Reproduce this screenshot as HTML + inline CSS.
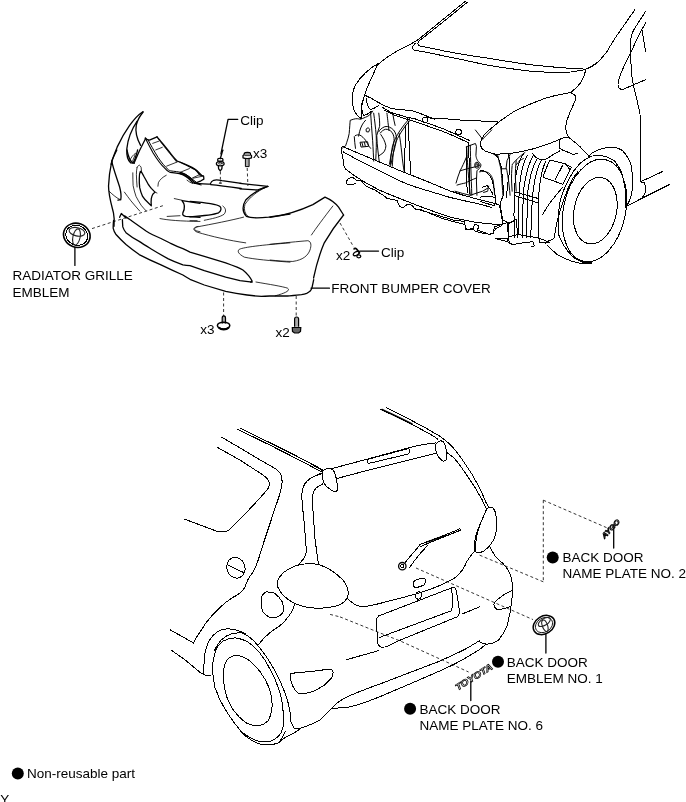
<!DOCTYPE html>
<html><head><meta charset="utf-8">
<style>
html,body{margin:0;padding:0;background:#fff;}
body{width:686px;height:802px;overflow:hidden;position:relative;}
svg{position:absolute;left:0;top:0;filter:grayscale(1);}
text{font-family:"Liberation Sans",sans-serif;font-size:13.5px;fill:#000;}
path,ellipse,circle,rect,polyline,line{vector-effect:non-scaling-stroke;}
.k{fill:none;stroke:#000;stroke-width:1.3;stroke-linecap:round;stroke-linejoin:round;}
.t{fill:none;stroke:#000;stroke-width:1;shape-rendering:crispEdges;stroke-linecap:round;stroke-linejoin:round;}
.u{fill:none;stroke:#000;stroke-width:0.8;stroke-linecap:round;stroke-linejoin:round;}
.d{fill:none;stroke:#000;stroke-width:0.8;stroke-dasharray:3 2.5;}
</style></head>
<body>
<svg width="686" height="802" viewBox="0 0 686 802">
<!-- BUMPER -->
<g id="g1" transform="translate(100,100) scale(0.142857)">
<path class="k" d="M300,82 C240,120 170,220 120,330 C95,390 80,440 78,450"/>
<path class="k" d="M302,84 C285,105 262,140 254,175 C247,215 255,265 284,318"/>
<path class="k" d="M260,148 C225,200 195,270 188,340 C185,390 195,425 215,440 L240,442"/>
<path class="k" d="M238,442 C255,400 282,340 320,268"/>
<path class="u" d="M208,425 C218,400 232,384 250,372"/>
</g>
<g id="gs" transform="translate(140,125) scale(0.087466)">
<path class="k" d="M60,150 C80,190 110,250 150,320 C190,385 230,445 280,490 C300,515 320,535 345,542 C400,548 460,552 500,568 C550,590 590,630 640,668 L700,685" style="stroke-width:1.1"/>
<path class="k" d="M92,170 C115,213 155,288 205,368 C245,428 285,476 325,512 C340,523 355,526 385,529 C425,532 475,540 525,565 C565,590 605,625 645,655" style="stroke-width:1"/>
<path class="k" d="M60,150 L85,168 L108,172 L195,135"/>
<path class="k" d="M195,135 C230,175 280,240 330,300 C370,350 400,390 425,412 C470,425 530,450 600,488 C640,510 665,530 700,570"/>
<path class="u" d="M205,155 C240,200 300,275 420,425"/>
<path class="u" d="M145,210 L215,185 M180,285 L255,255 M305,470 L420,425 M462,540 L565,498 M600,605 L680,568"/>
<path class="u" d="M300,575 C260,595 225,625 210,660 L205,700"/>
</g>
<g id="ge" transform="translate(180,150) scale(0.087466)">
<path class="k" d="M0,140 C60,165 120,200 175,225 C195,240 210,262 225,285 L270,300 L273,333 L240,352 L168,382"/>
<path class="u" d="M152,322 L266,298"/>
<path class="k" d="M0,255 C50,270 100,300 140,340 C150,355 160,370 168,382"/>
<path class="k" d="M0,270 C60,290 110,330 150,380"/>
<path class="u" d="M80,345 C100,360 120,375 140,380"/>
<path class="k" d="M168,382 C230,385 300,390 345,390 C352,372 362,355 385,346 C410,340 440,342 480,350 L700,382"/>
<path class="k" d="M350,396 C450,405 560,420 700,440"/>
<path class="k" d="M490,0 L460,100"/>
<path class="k" d="M432,102 C432,95 490,95 490,102 L490,128 L432,128 Z"/>
<ellipse class="k" cx="460" cy="158" rx="44" ry="24"/>
<ellipse class="u" cx="460" cy="152" rx="22" ry="9"/>
<path class="k" d="M438,180 L442,215 L460,238 L478,215 L482,180"/>
<path class="u" d="M452,378 L462,362 L472,378 Z"/>
</g>
<g id="g2b" transform="translate(100,150) scale(0.112221)">
<path class="k" d="M150,0 C130,40 110,80 105,100 C90,170 78,260 76,320 C76,400 100,480 120,560 C130,610 128,650 125,680"/>
<path class="k" d="M105,100 C115,160 150,250 175,330 C188,380 190,420 185,442 L160,446"/>
<path class="u" d="M185,445 C150,430 115,400 82,368"/>
<path class="k" d="M175,600 L190,566 L232,606"/>

<path class="k" d="M240,0 C250,50 270,100 292,115 C310,100 322,50 335,0"/>
<path class="u" d="M290,100 L312,45"/>
</g>
<g id="vent2">
<path class="k" d="M140.4,171.3 C139.5,173.5 139.2,176 139.3,178.2 C139.2,181.5 139.3,184.6 139.7,187.7 C140.3,190.7 141.3,193.6 142.6,196.4 C144,198.6 145.8,200.6 147.7,202.3 L151.3,205.9 C151,203.3 151,200.9 151.3,198.6 C151.6,197 152.1,195.6 152.8,194.3 L155,192.1 C153.8,190.9 152.5,189.7 151.3,188.4 C150,186.8 148.8,185.1 147.7,183.3 L144.1,176.8 C143.2,175 142.2,173.1 141.1,171.3 Z"/>
<path class="u" d="M137.1,167.3 C137.7,166.2 138.4,165.5 139.3,165.1 C140,165.7 140.7,166.4 141.1,167.3 L141.5,170.9"/>
<path class="u" d="M137.1,167.3 C136.6,169.7 136.3,172.1 136.4,174.6 C136.5,178.7 136.7,182.9 137.1,187"/>
<path class="u" d="M132.8,172.8 C132.8,177 132.9,181.3 133.1,185.5 C133.8,189.2 134.8,192.9 136,196.4 C137.6,199.4 139.3,202.4 141.1,205.2 C142.8,207.2 144.4,209.2 146.2,211"/>
<path class="u" d="M124.4,192.1 C126.5,195 128.7,197.9 130.9,200.8 C133.8,204.3 136.7,207.7 139.7,211"/>
<path class="u" d="M155,192.1 L157,193"/>
</g>
<g id="g2" transform="translate(100,170) scale(0.142857)">

<path class="k" d="M575,215 C600,245 595,270 580,300 C575,315 585,322 600,325 L700,332"/>
<path class="k" d="M575,215 L700,234"/>
<path class="u" d="M520,200 L575,212"/>
<path class="u" d="M470,325 L560,320 M420,340 C480,352 560,358 700,360"/>
<path class="u" d="M686,395 C665,400 655,412 670,425 L700,432"/>
</g>
<g id="lip">
<path class="k" d="M124.6,215.9 C127,217.5 129.5,219.3 131.9,221 L146.4,231.2 C151,234 156,236.3 161,238.5 C164.5,240.3 168,242 171.2,243.6 C175,245.5 179,247.2 182.9,248.7 C185.5,249.9 187.8,251 190,252.1 L204.3,256.4 L225.7,262.9 C229.5,264.3 233.3,265.7 237.1,267.1 C239.3,268 241.2,268.9 242.9,270 C245,271.7 246.9,273.6 248.6,275.7 C250,277.5 251.2,279.3 252.1,281.1 L250.7,282.1"/>
<path class="k" d="M122.4,219.6 C122.5,222 122.6,224.5 122.8,226.9 C123.5,229 124.6,231 126,232.7 C130,236 134.5,238.8 139.2,241.4 C143,244 147,246.4 150.8,248.7 C156.5,252.2 162.4,255.6 168.3,258.9 C173,261.2 178,263.1 182.9,264.8 C185.5,265.1 187.8,265.4 190,265.7 L204.3,270.7 L225.7,277.1 L240,280.7 L252.1,282.1"/>
<path class="k" d="M113.6,220.3 C113.3,223 113.1,225.6 113.2,228.3 C113.7,230.4 114.6,232.4 115.8,234.2 C119,237.8 122.4,241.2 126,244.4 C130.3,247.9 134.7,251.3 139.2,254.6 C146.3,258.3 153.6,261.7 161,264.8 C168.3,268.3 175.6,271.7 182.9,275 C185.3,276.5 187.6,277.9 190,279.3 L204.3,285 L225.7,291.4 C232.8,292.8 240,294 247.1,295 C251.9,295.6 256.6,296.1 261.4,296.4 C264.3,296.4 267.1,296.2 270,296 L287.5,296 C292,295.6 297,295.2 301.5,294.6 C303.3,294.3 305.1,293.9 306.7,293.4 C308,292.8 309.2,292 310.2,291.1 C311,290 311.6,288.8 312,287.6 C312.6,285 313.2,282.3 313.7,279.7"/>
</g>
<g id="g3" transform="translate(190,140) scale(0.142857)">
<path class="k" d="M350,303 L545,325"/>
<path class="k" d="M350,342 L470,350 L545,325"/>
<path class="k" d="M545,325 C480,345 430,380 390,420 C365,460 365,500 395,535 C420,545 480,547 550,540 L700,518"/>
<path class="u" d="M530,332 C470,358 420,400 385,450 C375,490 385,520 410,537"/>
<path class="k" d="M0,430 C100,438 190,450 210,465 C222,478 218,495 200,510 C160,525 80,532 0,538"/>
<path class="u" d="M230,462 C252,478 255,500 238,520 C210,540 150,552 100,562"/>
</g>
<g id="g4" transform="translate(190,200) scale(0.142857)">
<path class="u" d="M0,145 L50,145"/>
<path class="u" d="M375,120 C300,140 150,170 40,190 C20,198 22,212 50,225 C150,255 280,285 390,300"/>
<path class="u" d="M700,300 C500,315 380,330 345,345 C328,360 340,378 380,400 C450,415 560,425 700,435"/>
</g>
<g id="g5" transform="translate(270,180) scale(0.142857)">
<path class="k" d="M0,262 C100,248 200,218 300,172 L385,120 C420,135 460,165 480,190 L515,245"/>
<path class="k" d="M515,245 C470,300 420,370 380,440 C350,510 325,590 305,686"/>
<path class="u" d="M290,385 C320,340 380,260 440,182"/>
<path class="u" d="M0,450 C100,440 200,430 265,425 C290,430 290,460 280,490 C265,530 230,560 160,570 C100,570 50,565 0,560"/>
</g>
<g id="gc" transform="translate(200,250) scale(0.17492)">
<path class="k" d="M635,218 L740,218"/>
<path class="u" d="M320,183 C400,197 470,208 500,218 C515,228 505,242 430,262"/>
</g>
<g id="dash">
<path class="d" d="M247.2,168 L247.9,186 M220.4,171.4 L220.4,179.5 M340,223 L353.8,247.2 M223.6,292.5 L223.6,317 M296.2,296 L296.2,317.5"/>
</g>
<g id="fast">
<path class="k" d="M244.5,153 C245,152.2 249.8,152.2 250.3,153 L250.6,155 L251.5,155.5 L251.5,157.8 C249.5,158.8 245,158.8 243,157.8 L243,155.5 L243.9,155 Z"/>
<path class="u" d="M244.8,155.6 L249.8,155.6 M245.2,154 L249.4,154"/>
<rect x="245.4" y="158.6" width="3.7" height="8" style="fill:#aaa;stroke:#000;stroke-width:1"/>
<path d="M222.2,323.5 L222.2,318 C222.2,316.5 223,315.8 223.8,315.8 C224.6,315.8 225.5,316.5 225.5,318 L225.5,323.5" style="fill:#aaa;stroke:#000;stroke-width:1.2"/>
<ellipse class="k" cx="223.6" cy="325.6" rx="6.2" ry="3.3" style="stroke-width:1.5"/>
<path class="k" d="M219,327.8 C221,329.9 226.5,329.9 228.5,327.8" style="stroke-width:2"/>
<path d="M294.6,326.7 L294.6,319 C294.6,317.5 295.5,317 296.6,317 C297.7,317 298.6,317.5 298.6,319 L298.6,326.7" style="fill:#aaa;stroke:#000;stroke-width:1.2"/>
<path d="M292.3,327.5 L300.8,327.5 L300.5,331.5 L298.5,333 L294.5,333 L292.5,331.5 Z" style="fill:#666;stroke:#000;stroke-width:1.2"/>
<path class="k" d="M354,249 C354.8,248 356,248.2 357,249.5 L359.5,252.8" style="stroke-width:1.6"/>
<ellipse class="k" cx="356.3" cy="253.5" rx="3.3" ry="1.8" transform="rotate(-30 356.3 253.5)"/>
<ellipse class="k" cx="358.8" cy="256.3" rx="2" ry="1.5"/>
</g>
<g id="g7">
<ellipse class="k" cx="76.8" cy="235.3" rx="13.5" ry="11.9" transform="rotate(20 76.8 235.3)" style="stroke-width:1.6"/>
<ellipse class="t" cx="76.8" cy="235.3" rx="11.2" ry="9.8" transform="rotate(20 76.8 235.3)"/>
<ellipse cx="77" cy="231.8" rx="8" ry="4.2" transform="rotate(12 77 231.8)" style="fill:none;stroke:#222;stroke-width:1.1"/>
<ellipse cx="76.5" cy="237" rx="3.6" ry="8.3" transform="rotate(12 76.5 237)" style="fill:none;stroke:#222;stroke-width:1.1"/>
<path class="k" d="M74.9,247.4 L74.9,265.4"/>
<path class="d" d="M92,228.6 L162.9,205.7"/>
</g>
<g id="g8" transform="translate(200,105) scale(0.102041)">
<path class="k" d="M370,140 L275,140 L205,480"/>

</g>
<g id="g9" transform="translate(330,225) scale(0.087466)">
<path class="k" d="M340,298 L555,298"/>
</g>
<!-- FRONT CAR -->
<g id="car1">
<path class="t" d="M465.7,1 L444.3,18.4 C436,25 426,33.7 417.8,39.8 C411.6,44 404.5,47.3 397.3,51 C389,55.5 383,60.2 376.9,65.3"/>
<path class="t" d="M467.1,2.4 L446.3,19.4 C438,26 428,34 419.8,40.4"/>
<path class="t" d="M419.8,40.4 C417.5,42.5 417,44.5 419.8,45.9 C430,48 440,50 444.3,51 C460,54 475,56.5 486.6,58 C505,61 520,63.5 533.3,65 C550,67 565,68.3 585.8,69.2"/>
<path class="t" d="M415.3,43.3 C412.5,46 411.5,48.5 414.1,50 C425,52 435,54 444.3,56 C460,59 475,62.5 486.6,65 C505,68 520,70 533.3,71.5 C545,72.3 555,72.4 570.6,72 L585.8,69.6"/>
<path class="t" d="M634.8,9.8 L625,23.8 C620,31 618,34 615.2,37.8 C612,43 609,48 606.8,51.8 C603,56.5 601,59 598.4,61.6 C595,64.5 592,66.5 585.8,69.2"/>
<path class="t" d="M645.7,11.2 L637.6,23.8 C635,28 633.5,30 632.7,32.2 C631,36 630.6,39 630.6,42 L630.6,56 C631,65 631.5,72 632,77 C633,84 634,88 634.8,91 C637,100 639,108 640,114.3 C640.6,125 640.9,132 640.9,137.1 L640,160 L640,180 C641,182 643,183 644.3,182.9 C645.5,186 646,189 645.7,191.4 C645,194 643.5,196.5 641.4,198.6"/>
<path class="t" d="M646,22.4 L641.8,29.4 L636.2,40.6 L630.6,53.2 C627,60 625,64 623.6,67.2 C621,73 619.5,77 618.7,79.8 C617.5,84 618,87 619.4,88.2 C620.5,89.5 621.5,89.8 622.9,89.6 L632,85.4 L646,79.5"/>
<path class="t" d="M642.1,30.1 L645.7,51.8"/>
<path class="t" d="M585.8,69.2 C593,66.5 597,63.5 600,60.3"/>
<path class="t" d="M585.8,69.6 C584.6,76.6 582.5,80 580,83.6 C577,87.5 575,89.5 570.6,92.5"/>
<path class="t" d="M570.6,92.5 C560,94.5 550,96 540.7,100 C530,104 523,107 516.2,110.2 C507,116 501,120 495.8,124.5 C489,130 485.5,133 483.6,135.7 C481.5,139 480.5,141 480.5,142.9 C480.5,146 481.3,148 482.6,149 C484,150.5 486,151.5 487.7,152 C490.5,153 493,153.8 495.8,154.1 C501,154.2 506,153.8 512.1,153.1 C519,152.3 526,150.5 532.6,149 C539,147.5 545,145 550.9,142.9 C555,141.3 560,139.5 563.2,137.8 L568.6,137.1"/>
<path class="t" d="M570.6,92.5 C574,94 575.7,95.5 575.7,97.1 C575.5,100 574.5,103 572.9,105.7 C570.5,110.5 568.5,115.5 567.1,120 C566,124 565.5,126.5 565.7,128.6 C566,131.5 567,134.5 568.6,137.1 C571,139.5 573.5,141.2 575.7,142.9 C579,145.5 582,148.5 584.3,151.4 L590,157.1"/>
<path class="t" d="M588.6,156.2 C590.5,154 592.5,152.5 595.1,151.3 C599,149.3 603.5,147.8 608.1,147.3 C611.5,146.9 615,147.2 617.8,148.1 C621,149.3 624,151.5 625.9,154.6 C628,157.5 629.8,161 630.8,164.3 C631.8,168 632.2,172 632.4,175.7 L632.4,188.6 C632.2,191.5 631.6,194.3 630.8,196.7 C630,199 629.2,201.3 628.3,203.2 L625.9,206.5"/>
<path class="t" d="M592,156 C587,158 583,160.5 579.9,163.5 C575.5,168 572,173 569.4,178.4 C566.3,183.8 563.8,189.3 561.9,194.9 C560.3,199.8 559.3,204.8 558.9,209.8 C558.3,214.8 558.1,219.8 558.2,224.8 C558.3,228.3 558.5,231.8 558.9,235.3 C560.3,239.5 562.4,243.5 564.9,247.2 C567.5,251 570.5,254.5 573.9,257.7 C576.7,259.7 579.7,261.2 582.9,262.2 C585.9,262.8 588.8,263 591.8,262.9"/>
<path class="t" d="M547.7,245.7 C550.8,248.8 554,251.8 557.4,254.7 C562.2,257.4 567.2,259.6 572.4,261.4 C575.8,262.5 579.3,263.2 582.9,263.7 L592,264"/>
<path class="t" d="M593.5,155.4 C597.3,155.5 601,155.7 604.8,156.2 C608.3,157.5 611.6,159.1 614.6,161.1 C617.1,164.1 619.2,167.4 621,170.8 C622.4,175.1 623.5,179.4 624.3,183.8 C625,187.6 625.6,191.3 625.9,195.1 C625.9,199.4 625.6,203.8 625.1,208.1"/>
<path class="t" d="M625.9,206.5 L641.4,198.6 L670,184.3"/>
<path class="t" d="M641.4,181.4 L662.9,171.4"/>
<ellipse class="t" cx="594.5" cy="210.5" rx="31" ry="52" transform="rotate(12 594.5 210.5)"/>
<ellipse class="t" cx="595.3" cy="210.7" rx="21.2" ry="33.7" transform="rotate(12 595.3 210.7)"/>
</g>
<!-- ENGINE -->
<g id="eng">
<path class="t" d="M342.3,146.4 C360,154 380,162 400,170.7 C415,176.5 430,182.5 449.2,190.6 C460,194.5 470,197.3 478.3,199.4 L495.8,203.7"/>
<path class="t" d="M343.5,152 C350,155.5 355,158.5 360,161.1 C373,167.5 387,174.5 400,180.9 C407,184 413,186.5 420,188.4 C430,191.5 440,194.5 449.2,197.2 C460,200 470,202 478.3,203.7 L491.4,207.4"/>
<path class="t" d="M342.3,146.4 C341.5,147.5 341,149 341.2,150 C341.8,153 342.5,156 342.9,158.7 C343.4,161.5 343.8,164 344.1,166.2 L345.8,169.2"/>
<path class="t" d="M345.8,169.2 C350.5,173 355,176.5 360,179.2 C366,183 373,186.8 379.2,190 C383,191.8 386,193 389,194.2 C396,197 403,200 410,202.5 C414,204 417,205.3 420,206.5 C430,210 440,213.8 449.2,216.9 C460,219.5 470,221.3 478.3,222.7 L501.6,224.9"/>
<path class="t" d="M495.8,203.7 L499.4,205.2 C500,208 500.5,210 500.9,212.5 C501.5,216 502,219 502.4,221.2 L503.1,224.1 L501.6,224.9"/>
<path class="t" d="M420,209.3 C428,212.5 435,215.5 441.9,218.3 C450,221 457,222.8 463.7,224.1"/>
<path class="t" d="M346.4,181.4 L348.2,178.5 L352.8,177.3 L356.3,180.2 L361,180.2 L363.3,183.1 L366.8,186.6 L375,190.1 L384.3,196 L386.6,198.3 L392.5,199.5 L397.1,200.6 L399.5,206.5 L403,207.6 L407.6,204.1 L412.3,205.3 L414.6,208.8 L420,210 L440,216 L455,220.5 L463.7,221.2 L466.6,230 L472.5,228.5 L475.4,231.4 L481.2,232.9 L490,234.3 L492.9,232.9 L495.8,228.5 L501.6,225.6"/>
<path class="t" d="M346.4,181.4 L347,184.3 L351.7,184.9 L355.2,183.7"/>
<path class="t" d="M495.8,238.7 L507.5,241.6 L513.3,244.5 L520,243.1 M503.1,224.1 L507,222.8 L508.5,235.8 L507.5,241.6"/>
<path class="t" d="M382.1,107.1 C386,109.5 389,111.5 392.1,112.9 C397,114.5 401,115.2 406.4,117.1 L414.3,118.6 L428.6,123.6 L442.9,128.6 L457.1,135 L470,140.7"/>
<path class="t" d="M384,110 C389,113 394,115.5 400,117.1 L414.3,121.4 L428.6,126.4 L442.9,131.4 L457.1,137.4 L468.6,142.9"/>
<circle class="t" cx="425" cy="120" r="2.8"/><circle class="t" cx="458.6" cy="132.1" r="2.8"/>
<path class="t" d="M407.9,118.6 L410.7,174.3 M405.7,125.7 L404.3,171.4 M468.6,142.9 L470,194.3 M466.4,147 L467.1,193"/>
<path class="t" d="M516.9,234.4 L538.7,238 L549.7,242.4"/>
<path class="t" d="M495.7,238 L508.1,238.7 L509.6,243.1 L512.5,244.6 L521.2,243.1 L532.9,241.6 L534.3,246 L531.4,246.7"/>
<path class="t" d="M508.1,237.3 L508.1,224.2 L516.1,219.1 L517.6,234.4 L508.1,237.3"/>
<path class="t" d="M464.4,220.5 L465.8,230 L473.1,229.3 L474.6,224.2 L479,225.6 L477.5,230 L489.2,234.4 L493.5,233.6 L494.3,227.1 L502.3,224.2"/>
<path class="t" d="M538.7,238 L540,243 L549.7,242.4"/>
</g>
<g id="brk" transform="translate(340,105) scale(0.102041)">
<path class="t" d="M320,60 C305,90 280,110 250,120 C230,128 215,135 200,140 C180,135 160,130 130,140 L100,150 C97,180 95,220 90,280 C85,310 75,340 65,370 L55,400 L30,415 L18,428"/>
<path class="t" d="M250,150 C225,175 205,210 192,260 L182,305"/>
<path class="t" d="M258,235 L275,222 L292,238 L280,265 L262,262 Z"/>
<path class="t" d="M150,300 C165,292 180,290 195,295 C215,305 235,325 250,345 L270,380 L285,405 L300,425"/>
<path class="t" d="M200,365 L270,360 L280,405 L210,412 Z M215,370 L225,405 M240,368 L248,405 M140,310 L145,370 L152,425"/>
<path class="t" d="M300,80 C305,150 312,250 320,350 C325,430 328,500 330,550"/>
<path class="t" d="M330,80 C340,150 348,220 355,300 C358,380 355,450 350,540"/>
<path class="t" d="M380,80 C388,140 390,180 388,210 C380,240 365,270 360,300 C362,350 366,400 372,450 L385,560"/>
<path class="t" d="M380,262 C390,240 410,225 440,212 C470,205 500,220 525,245 C545,270 555,300 552,340 C548,380 535,430 520,480 L500,580"/>
<path class="t" d="M395,275 C408,255 425,245 445,238 C470,235 492,248 510,268 C525,290 532,320 530,350 C525,390 512,440 500,490 L485,580"/>
<path class="t" d="M400,290 C420,320 440,350 450,400 C448,440 430,470 400,485 L378,500"/>
<path class="t" d="M686,125 C650,165 615,210 585,255 C555,300 530,350 515,400 C505,450 498,500 495,560 L492,600"/>
<path class="t" d="M686,150 C655,185 625,225 600,265 C575,305 550,350 535,400 C525,450 518,500 515,560 L512,600"/>
<path class="t" d="M580,280 C590,340 598,400 605,470 C612,540 620,600 630,660"/>
<path class="t" d="M460,80 C465,120 470,170 480,250 M520,100 C525,130 530,165 540,200"/>
</g>
<g id="rbk" transform="translate(455,130) scale(0.102041)">
<path class="t" d="M110,165 L200,132 L210,160 L205,250 C210,280 215,300 250,330 C258,345 255,360 235,380 L215,400 L210,500 L215,640"/>
<path class="t" d="M115,165 C118,250 125,400 150,640"/>
<path class="t" d="M150,150 C152,300 158,450 165,640"/>
<path class="t" d="M110,270 C90,320 70,360 50,400 C35,440 20,480 10,520"/>
<path class="t" d="M50,400 C100,385 150,370 200,360"/>
<path class="t" d="M20,540 C50,530 75,525 100,520 C130,505 160,490 210,470"/>
<path class="t" d="M0,600 C50,615 100,630 150,640 C190,625 230,612 270,600 L320,570"/>
<ellipse class="t" cx="215" cy="345" rx="22" ry="30"/><ellipse class="t" cx="215" cy="345" rx="11" ry="16"/>
<path class="t" d="M330,550 C325,570 322,590 320,600 L280,612"/>
<path class="t" d="M240,410 C270,400 300,405 330,420 C355,440 368,470 375,500 C380,540 383,590 390,640"/>
<path class="t" d="M200,0 L270,90 M360,0 L270,90"/>
<path class="t" d="M380,240 C400,244 415,248 420,250 C425,270 428,290 430,300 L450,380 L500,380 L510,300 L540,240"/>
<path class="t" d="M450,380 C455,430 460,500 470,640 M505,380 C515,430 528,500 540,640"/>
<path class="t" d="M560,350 C555,400 552,450 555,520 L560,600 M600,300 C595,350 590,400 592,480 L600,600"/>
<path class="t" d="M560,340 C590,300 620,270 686,220 M600,340 C620,310 645,290 670,280"/>
</g>
<g id="ez1" transform="translate(480,140) scale(0.142857)">
<path class="t" d="M305,95 C280,130 255,200 245,300 C240,380 238,450 238,520 L240,686"/>
<path class="t" d="M330,110 C305,150 285,220 275,350 C271,420 270,500 268,600 L265,686"/>
<path class="t" d="M370,115 C345,160 320,230 305,350 C301,420 300,500 298,600 L295,686"/>
<path class="t" d="M400,130 C375,170 350,240 335,360 C331,430 330,500 328,600 L325,686"/>
<path class="t" d="M430,140 C405,180 385,250 370,370 C365,430 360,500 358,600 L355,686"/>
<path class="t" d="M460,150 C440,190 420,260 410,400 C406,450 405,500 407,600 L410,686"/>
<path class="t" d="M250,365 L410,410 M245,390 L405,440"/>
<path class="t" d="M200,95 C205,140 210,170 210,200 C205,240 198,270 195,300 L185,400"/>
<path class="t" d="M100,95 C115,110 125,120 130,130 C140,160 148,180 150,200 C155,240 158,270 160,300 L165,380 L150,420 L140,440 C145,480 150,520 160,560 L200,580 L240,570"/>
<path class="t" d="M490,140 L590,165 L640,190 M490,140 C470,180 455,220 440,260 L580,310 L640,190 M580,175 L525,280 M600,165 L630,210"/>
<path class="t" d="M440,520 C460,480 500,420 580,330"/>
<path class="t" d="M520,686 C530,600 545,540 560,500 C580,430 600,380 620,330 C640,280 660,250 686,220"/>
<path class="t" d="M470,710 C490,700 510,705 520,686 M470,710 L460,722"/>
<path class="t" d="M370,95 C375,110 380,120 420,135 C440,138 460,135 470,130 C490,118 510,100 560,75"/>
<path class="t" d="M560,0 C558,20 558,45 560,60 C575,70 590,78 600,80 C620,85 640,95 650,100 L686,95"/>
<path class="t" d="M0,210 C25,215 45,225 50,230 C65,245 75,260 80,270 C90,300 98,330 100,350 L110,420 L100,460"/>
<path class="t" d="M0,430 L100,460 M0,400 C20,395 40,390 60,395 L100,400"/>
<path class="t" d="M20,330 L50,320 L60,330 L80,360 L90,380"/>
</g>
<g id="eb1" transform="translate(335,60) scale(0.142857)">
<path class="t" d="M300,25 C240,60 180,115 140,180 C118,230 115,290 130,340 C142,375 160,398 185,410"/>
<path class="t" d="M300,25 C285,60 260,120 240,160 C220,205 205,245 195,290 C185,330 180,370 185,410"/>
<path class="t" d="M205,245 C230,255 260,270 300,295 C330,312 360,330 400,340 C440,348 480,350 520,352 C560,358 600,375 640,392 L700,415"/>
<path class="t" d="M220,270 C222,300 228,330 245,345 C265,345 290,330 310,315 M195,280 C185,310 183,350 200,390 C220,385 240,372 258,358"/>
</g>
<g id="eb3" transform="translate(400,100) scale(0.142857)">
<path class="t" d="M190,125 C230,128 270,130 300,130 C350,134 400,140 450,142 C530,146 600,148 686,152"/>
</g>
<!-- REAR CAR -->
<g id="rear">
<ellipse class="t" cx="235.9" cy="567.7" rx="9.1" ry="10.5" transform="rotate(-18 235.9 567.7)"/>
<path class="t" d="M228.6,565.5 L243.8,572.6"/>
<path class="t" d="M237.1,429.2 C260,440 290,455 321,471.5"/>
<path class="t" d="M240.2,428.2 C262,439 292,453 322,469.5"/>
<path class="t" d="M221.8,437.3 C228,441 235,445 241.2,448.6 L261.6,460.8 C267,464 272,466.5 275.9,469 C278.5,471 280.5,473 281,475.1 C282,478 282.3,480.5 282,483.3 C281.5,487 281,490 280,493.5 C278.8,497.5 277.3,501.5 275.9,505.7 L269.8,524.1 L263.7,542.4 C262,548 260.5,553 258.6,558.8 C256.5,566 253,573 249.3,577.1 C247.5,580 246,584 245,587.1 C242,592 237,595.5 233.6,597 C228,600.5 225,602.5 220.5,607 C215,612 210,617.5 205.5,623.5 C202,629 199,634 196.7,636.9 L193.7,642.7"/>
<path class="t" d="M217.8,447.6 L241.2,460.8 L261.6,474.1 C264.5,476 266.5,477.5 267.8,479.2 C269,481 269.6,483 269.4,485.3 C269,487.3 268,489 266.7,490.4 L257.6,500.6 L241.2,518 L229,530.2 C227,531.3 225,531.8 222.9,531.8 C220.5,531.9 218.5,531.6 216.7,531.2 L200.4,525.1 L184.1,519"/>
<path class="t" d="M320,473.5 C316,475.5 313,477 310.6,478.2 C307.5,480.5 305.5,482.5 304.5,484.3 C302.8,487.5 302.2,490.5 302,493.5 C301.8,497.5 302,501.5 302.4,505.7 L304.1,522 L305.5,538.4 C306,544 306.3,549 306.1,553.1 C305.5,556 304.5,558 302.8,559.7 L298.9,564.3"/>
<path class="t" d="M322.5,484 L316.1,487.8 C314,490.5 312.8,493 312.4,495.9 C312.4,502 312.7,507 313.1,512.2 L315.1,540 L318.5,564.3"/>
<path class="t" d="M322.2,471.4 C324,469.5 326,468.6 328.4,468.4 C330.5,468.5 332.5,469.2 333.5,470.4 C335,473 336,476 336.5,479.6 C337.2,483 337.7,486.5 337.6,489.8 C336.8,491 335.5,491.6 334.5,491.4 C332.5,491 330.8,490 329.4,488.8 C327.3,487.2 325.5,485.5 324.3,483.7 C323,481 322.3,478.3 322.2,475.5 Z"/>
<path class="t" d="M435.5,444.9 C437,442.5 438.8,441 440.6,440.8 C442.3,440.9 443.8,442 444.7,443.9 C445.7,446.3 446.1,448.7 446.3,451 C446.6,453.7 446.8,456.5 446.7,459.2 C445.8,460.5 444.8,461.2 443.7,461.2 C442.5,461 441.5,460.3 440.6,459.2 C439.3,458 438.3,456.5 437.6,455.1 C436.5,453 435.8,451 435.5,449 Z"/>
<path class="t" d="M332.4,468.4 C345,465 355,462.5 367.1,459.2 L412,446.9 C420,445 428,443.8 435.5,442.9"/>
<path class="t" d="M336.5,478.6 C348,475.5 360,472.3 371.2,469.4 L412,459.2 C420,457.3 428,455.3 435.5,453.5"/>
<path class="t" d="M368.2,459.2 L408,448.6 C409.5,449 410,450 409.6,450.6 C409.5,452 409,453.5 408,454.1 L369.2,463.3 C368,463.2 367.4,462.3 367.6,461.2 C367.6,460.2 367.8,459.5 368.2,459.2 Z"/>
<path class="t" d="M310,463.3 L322.2,470.4 M310,478.6 C314,476 318,474.5 322.5,473.5"/>
<path class="t" d="M380.4,409.2 C392,414.5 402,419.5 412,424.5 C420,428.5 428,433 434.5,436.7 L438,439.5"/>
<path class="k" d="M382,409.5 C392,414.3 402,419 412,424" style="stroke-width:1.6"/>
<path class="t" d="M386.5,407.8 C400,414.5 412,420.5 420,425 C428,429 435,433.5 440.5,436.6 C444,439.3 448,442.3 450.9,445.3 C455,449.5 458.5,454 461.4,458.4 L471.9,474.1 L480.6,489.8 L485.8,502 L488.5,507.3"/>
<path class="t" d="M446.6,452.3 C449.5,454.5 452,456.3 454.4,458.4 C458,462.5 461.5,467.5 464.9,472.4 L475.4,488.1 L482.4,500.3 L486.7,509.9"/>
<path class="t" d="M487.6,508.1 C489,507.3 490.5,507 492,507.3 C493.8,508.5 494.8,510.5 495.4,512.5 C496.3,516.5 496.7,520.5 496.7,524.7 C496.6,528.3 496.2,531.8 495.4,535.2 C494.5,538.3 493,541.2 491.1,543.9 C489,546.5 486.7,549 484.1,550.9 C482.2,552 480.1,552.6 478,552.6 C476.5,552.4 475.2,551.8 474.5,550.9 C474.1,548 474.1,545 474.5,542.2 C475.2,538.6 476,535 477.1,531.7 C478.4,528 479.8,524.5 481.5,521.2 L485.8,510.8 Z"/>
<path class="t" d="M485.8,510.8 L480.6,523 C478.8,528 477.3,533.5 476.2,538.7 C475.7,543 475.5,547 475.7,550.9"/>
<path class="t" d="M489.6,546.1 C491,549 493,552.5 494.7,555.3 C497,558.5 500,561 502.9,563.5 C505,566 507.3,568.5 509,571.6 C510.5,575 511.5,578.5 512,581.8 C512.6,584.5 512.8,587.3 512.7,590 C512.6,593 512.4,596 512,598.2 C511.8,601 511.4,604 511,606.3 C510.4,612 509,618 507.1,625.7 C505,631 502,636 498.6,640 C495,642.5 491,644 487.1,644.3 C484,644 481,643 478.6,641.4"/>
<path class="t" d="M512.7,590 C510,591.3 507.5,592.6 504.9,594.1 C502,596 499,598.2 496.7,600.2 C495,601.5 494,603 493.7,604.3 C494.2,606.5 495.3,608.2 496.7,609.4 C499.5,609.5 502.3,609.1 504.9,608.4 C507,607.8 509,607 511,606.3"/>
<path class="t" d="M347.6,598.4 C349.5,600.5 350.8,601.8 352.2,602.7 C354.5,604.5 357.5,605.8 360.4,606.3 C364,606.4 367.5,606.2 370.6,605.7 C377,604.2 384,602.4 391,600.6 C400,598.2 409,596 417.6,593.5 C425,591.3 431.5,588.8 438,586.3 C444,583.7 449.5,581 454.3,578.2 C457.5,576 460,573.3 462.4,570 C464,567.8 465.5,565 466.8,561.5 C469,558 471.5,554.5 474.5,551.2"/>
<path class="t" d="M277.2,582 C278.5,578.5 280.5,575.5 283.1,572.8 C287,569.5 291.5,567.3 296.2,565.6 C300.5,564.3 305,563.7 309.4,563.6 C313,563.6 316.5,564 319.9,564.9 C324.5,566.5 329,568.8 333,571.5 C337,574.3 340.5,577.5 343.5,580.7 C346,583.8 347.6,587.5 348.1,591.2 C348.3,593.5 348.1,595.8 347.4,597.7 C345.8,600.5 343.5,602.7 340.8,604.3 C336.8,606.2 332.3,607.2 327.7,607.6 C323.8,608 319.8,608.3 315.9,608.2 C311.5,608 307,607.4 302.8,606.3 C299.5,605.4 296.5,604.3 293.6,603 C290,601 286.3,598.3 283.1,595.1 C280.8,592.6 279,589.9 277.9,587.2 C277.4,585.5 277.1,583.7 277.2,582 Z"/>
<path class="t" d="M294.9,604.3 C293.8,606.5 293,608.8 292.3,610.8 C290.5,614 288.2,617 285.7,620 C282,624.5 278,627.5 272.2,630.8 C266,635.5 261.5,640.5 258,645.1"/>
<path class="t" d="M262,596.1 C263,594 264.5,592.5 266.1,592 C268.8,591.8 271.6,592.2 274.3,593.1 C277.5,595.3 280.5,598.5 282.4,602.2 C283.4,604.8 283.8,607.7 283.5,610.4 C282.8,613 281,615.3 278.4,616.5 C275.8,617.6 273,617.9 270.2,617.6 C267.5,616.4 264.8,614.6 263.1,612.4 C261.8,609.2 261.1,605.7 261,602.2 C261.1,600 261.4,598 262,596.1 Z"/>
<path class="t" d="M170.2,629.8 L193.7,643.1"/>
<path class="t" d="M171.2,650.2 L184.5,659.4 L196.7,669.6 C199,671.8 201.4,673.6 203.9,674.7 C206.5,675.6 209,675.9 211,675.7"/>
<path class="t" d="M203.9,674.7 C203.6,671.5 203.6,668.5 203.9,665.5 C204.1,661.5 204.4,657.3 204.9,653.3 C205.7,648.8 207.1,644.8 209,641 C211.3,637.2 214,634.2 217.1,631.8 C220.2,630 223.7,629 227.3,628.8 C230.8,628.8 234.3,629.4 237.6,630.4 C240.5,631.3 243.2,632.5 245.7,633.9"/>
<path class="t" d="M213.1,661.4 C213.7,657 214.8,653 216.1,649.2 C217.8,645.7 220.3,643 223.3,641 C227,638.8 231.2,637.8 235.5,638 C240,638.4 244.2,639.8 247.8,642 C252.2,645 256.4,648.9 260,653.3 C264,658.2 267.5,663.7 270.2,669.6 C273.5,675.5 276.3,681.6 278.4,688 C280.3,693.3 281.6,698.8 282.4,704.3 C283.1,709.7 283.5,715.2 283.5,720.6 C283.6,725 283.2,728.5 281.5,732 C279.5,735.8 275,739.5 270,741.3 C264,742.8 258,741.5 253,739.2 C248,736.5 244,734 240.8,731 C236,725.5 232,720 228.6,714.7 C225,709 221,702.5 218.4,696.3 C216.5,691 215.1,688 215.1,688 C213.9,682.6 213.1,677.1 212.7,671.6 C212.6,668 212.7,664.6 213.1,661.4 Z"/>
<path class="t" d="M214.1,651.2 C216,647 218.3,643.3 221.2,640 C224.3,637 227.7,635 231.4,633.9 C234.8,633 238.3,632.7 241.6,632.9 C246,634.5 250.2,637.4 253.9,641 C259,646.5 263.8,652.7 268.2,659.4 C272.8,666.4 276.9,673.9 280.4,681.8 C283.8,689 286.5,696.6 288.6,704.3 C289.9,709.6 290.6,715.1 290.6,720.6 C291.5,723.8 293,726.5 294.7,728.8"/>
<path class="t" d="M223.3,671.6 C223.9,667 225.2,662.8 227.3,659.4 C230.4,656.5 234,655.2 237.6,655.3 C241.2,656.1 244.7,657.5 247.8,659.4 C252.5,662.9 256.6,667.1 260,671.6 C263.8,676.7 266.9,682.2 269.2,688 C271,693.3 272,698.8 272.2,704.3 C272.2,710 270.8,715.8 268.2,720.6 C265.2,723.7 261.7,725.4 258,725.7 C253.6,725.7 249.5,724.7 245.7,722.7 C241.2,719.3 237.1,715.1 233.5,710.4 C229.8,704.8 227,698.5 225.3,692 C223.8,685.3 223.1,678.4 223.3,671.6 Z"/>
<path class="t" d="M240,731 C245,736 252,741 258,743.5 C261,744.5 263,745 265.3,744.9 C270,745.3 274,744.5 277.5,743.2 C280,742 282.5,739.5 285,737.5 C288,736 291,734.5 293.7,733.1 C296.5,731.5 299,729.8 301,728"/>
<path class="t" d="M285.7,731 L280.6,740.2"/>
<path class="t" d="M294.7,728.8 C295.5,728.3 296.5,728 298,728 L301,728 C304.5,726.9 308,725.7 311.2,724.3 C314.2,723 317.2,721.6 320,720 C322.7,717.8 325,715.3 327.3,712.7 L332.4,707.6 C334.5,705.5 336.5,703.5 338.9,701.7 C341.8,699.8 344.7,698.1 347.7,696.6 C353.5,694 359.3,691.7 365.2,689.4 C372,686.8 378.5,684.5 385,682.1 L401.2,675.8 L438,661.8"/>
<path class="t" d="M332.4,708.3 C337,708 341.6,707.9 346.2,707.6 C351.2,706.5 356,705.3 360.8,703.9 C369,701 377,698 385,694.5 L411.4,683.3"/>
<path class="t" d="M290.8,673.3 L299.6,672.6 L314.2,671.1 L330.2,669 C331.8,669.4 332.8,670.5 333.1,671.9 C333.2,674 332.7,676 331.6,677.7 C329.5,680.5 327,682.8 324.4,685 C321,687.3 317.6,689.2 314.2,690.8 C310.8,692.3 307.4,693.2 304,693.7 C302,693.9 300,693.7 298.1,693 C296.3,691.5 294.8,689.8 293.7,687.9 C292.4,685.5 291.4,683 290.8,680.6 C290.3,679 290.1,677.5 290.1,676.2 C290.2,675 290.4,674 290.8,673.3 Z"/>
<path class="t" d="M346.1,659.8 L378.8,650.6 M462.4,613.9 L480,606.7"/>
<path class="t" d="M413.5,582.2 C414.7,580.6 416,579.6 417.6,579.2 L423.7,578.2 C425,578.6 425.8,579.8 425.7,581.2 C425.4,582.8 424.7,584.3 423.7,585.3 L417.6,587.3 C415.8,587.6 414.3,587.3 413.5,586.3 C413.1,585 413.1,583.5 413.5,582.2 Z"/>
<ellipse class="t" cx="418.6" cy="595.5" rx="3" ry="3.7" transform="rotate(25 418.6 595.5)"/>
<path class="t" d="M378.8,615.9 L451.2,588 C452.3,587.4 453.3,587.2 454.3,587.3 C455.3,588.2 456,589.2 456.3,590.4 L457.3,596.5 L459.4,610.8 C459.4,612.8 459.1,614.5 458.4,615.9 C457.2,617 455.8,617.6 454.3,618 L397.1,641.4 L386.9,646.5 C384.9,647.1 382.8,647.3 380.8,647.1 C379.3,646.3 378.3,645 377.8,643.5 L376.3,621 C376.5,619 377.3,617.2 378.8,615.9 Z"/>
<path class="t" d="M379.8,637.3 L451.2,610.8 C452.5,608 452.8,603.5 452.5,598 L451.6,588.3"/>
<path class="t" d="M438,661.8 C446,658.3 454,654.7 462.4,650.6 C467.5,648 472,645.3 476.7,642.4 L480,640.4"/>
<path class="t" d="M411.4,683.3 L442,670 C449,666.8 456,663.5 462.4,659.8 C468.5,656.3 474.5,652.7 480,649.3 C483,646.5 485,644.5 487.1,644.3"/>
<path class="d" d="M416,568 L533,619.6"/>
<path class="d" d="M340,616.9 L401.2,641.4 L468.6,672"/>
<path class="d" d="M330.1,614.4 L340,616.9"/>
</g>
<g id="wiper">
<path class="t" d="M419,544.8 C430,540.8 445,535.3 459.6,528.9 C460.5,529.2 460.5,530 460,530.4 C446,536 432,541.5 420,546.8"/>
<path class="k" d="M428,541.8 L446,535.2" style="stroke-width:1.6"/>
<path class="t" d="M419.5,545.5 C416,549.5 411,555.5 405.5,562"/>
<path class="t" d="M427.7,545.5 C424,549 419,554.5 414.4,560.8 C412,564 410.5,566.5 409.3,568"/>
<circle class="k" cx="402.3" cy="566.2" r="3.7"/><circle class="t" cx="402.3" cy="566.2" r="1.6"/>
</g>
<g id="rlabels">
<path class="d" d="M543.3,500.2 L543.3,581.8 M543.3,500.2 L606.5,527.6 M543.3,581.8 L478,554.5"/>
<path class="k" d="M613.7,529.6 L613.7,548 M545.9,634.3 L545.9,653 M470.8,681.2 L470.8,700.5"/>
<g transform="translate(610.6,528.8) rotate(-46)"><text x="-11.5" y="2.5" textLength="23" lengthAdjust="spacingAndGlyphs" style="font-size:7px;font-weight:bold;font-style:italic;fill:#fff;stroke:#000;stroke-width:0.8px">AYGO</text></g>
<ellipse class="k" cx="544" cy="625" rx="11.5" ry="8.8" transform="rotate(-32 544 625)" style="stroke-width:1.5"/>
<ellipse cx="544" cy="625" rx="9.2" ry="7" transform="rotate(-32 544 625)" style="fill:none;stroke:#000;stroke-width:0.9"/>
<ellipse cx="544.3" cy="622" rx="6.8" ry="3.3" transform="rotate(-32 544.3 622)" style="fill:none;stroke:#222;stroke-width:1.1"/>
<ellipse cx="545" cy="625.8" rx="2.6" ry="6" transform="rotate(-20 545 625.8)" style="fill:none;stroke:#222;stroke-width:1.1"/>
<g transform="translate(473.8,677) rotate(-32)"><text x="-21" y="3.2" textLength="42" lengthAdjust="spacingAndGlyphs" style="font-size:9px;font-weight:bold;font-style:italic;fill:#fff;stroke:#000;stroke-width:0.7px">TOYOTA</text></g>
</g>
<!-- TEXT -->
<g id="txt">
<text x="240.2" y="125.1">Clip</text>
<text x="253.0" y="158.1">x3</text>
<text x="12.4" y="280.2">RADIATOR GRILLE</text>
<text x="12.4" y="296.5">EMBLEM</text>
<text x="336.0" y="260">x2</text>
<text x="381.0" y="256.8">Clip</text>
<text x="331.2" y="293.3">FRONT BUMPER COVER</text>
<text x="200.3" y="333.6">x3</text>
<text x="275.5" y="336.9">x2</text>
<text x="562.4" y="562.1">BACK DOOR</text>
<text x="562.4" y="578">NAME PLATE NO. 2</text>
<text x="506.7" y="666.8">BACK DOOR</text>
<text x="506.7" y="682.6">EMBLEM NO. 1</text>
<text x="419.6" y="714.4">BACK DOOR</text>
<text x="419.6" y="729.8">NAME PLATE NO. 6</text>
<text x="27.0" y="778.1">Non-reusable part</text>
<text x="0.2" y="803.5">Y</text>
<circle cx="552.7" cy="557.4" r="6"/>
<circle cx="498" cy="661.8" r="6"/>
<circle cx="410.1" cy="708.7" r="6"/>
<circle cx="17.8" cy="773.4" r="6"/>
</g>
</svg>
</body></html>
